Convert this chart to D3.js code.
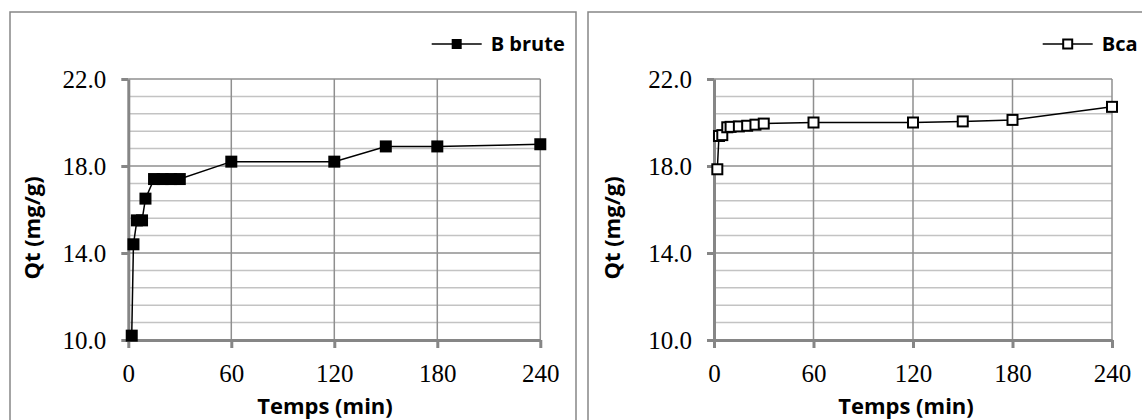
<!DOCTYPE html>
<html>
<head>
<meta charset="utf-8">
<script src="https://cdn.jsdelivr.net/npm/d3@7"></script>
<style>
  html, body { margin: 0; padding: 0; background: #fff; }
  svg { display: block; }
</style>
</head>
<body>
<svg id="chart" width="1142" height="420"></svg>
<script>
// ---- data ----
const times = [2, 3, 5, 8, 10, 15, 20, 25, 30, 60, 120, 150, 180, 240];
const qtBrute = [10.2, 14.4, 15.5, 15.5, 16.5, 17.4, 17.4, 17.4, 17.4, 18.2, 18.2, 18.9, 18.9, 19.0];
const qtBca = [17.85, 19.38, 19.42, 19.78, 19.8, 19.82, 19.85, 19.9, 19.95, 20.0, 20.0, 20.05, 20.12, 20.72];
const seriesNames = ["B brute", "Bca"];
const xTicks = [0, 60, 120, 180, 240];
const yTicks = [10, 14, 18, 22];
const yMinorStep = 0.8;
const xTitle = "Temps (min)";
const yTitle = "Qt (mg/g)";

const svg = d3.select("#chart");
const grey = "#868686";

const panels = [
  { name: seriesNames[0], values: qtBrute, filled: true,
    box: [10, 12, 576, 440], plot: { x0: 128.3, x1: 540.3, y0: 340, y1: 79 },
    legendX: 431.7, yTitleX: 40, xTitleC: 325 },
  { name: seriesNames[1], values: qtBca, filled: false,
    box: [588, 12, 1160, 440], plot: { x0: 714, x1: 1112, y0: 340, y1: 79 },
    legendX: 1042.7, yTitleX: 620, xTitleC: 906 }
];

panels.forEach(p => {
  const g = svg.append("g");
  // outer chart border
  g.append("rect")
    .attr("x", p.box[0]).attr("y", p.box[1])
    .attr("width", p.box[2] - p.box[0]).attr("height", p.box[3] - p.box[1])
    .attr("fill", "#fff").attr("stroke", grey).attr("stroke-width", 1.5);

  const x = d3.scaleLinear().domain([0, 240]).range([p.plot.x0, p.plot.x1]);
  const y = d3.scaleLinear().domain([10, 22]).range([p.plot.y0, p.plot.y1]);

  // minor horizontal gridlines
  const minor = d3.range(10 + yMinorStep, 22 - 0.01, yMinorStep)
    .filter(v => !yTicks.some(t => Math.abs(t - v) < 0.01));
  g.append("g").selectAll("line").data(minor).join("line")
    .attr("x1", x(0)).attr("x2", x(240))
    .attr("y1", d => y(d)).attr("y2", d => y(d))
    .attr("stroke", "#c3c3c3").attr("stroke-width", 1.5);
  // major horizontal gridlines
  g.append("g").selectAll("line").data(yTicks.slice(1)).join("line")
    .attr("x1", x(0)).attr("x2", x(240))
    .attr("y1", d => y(d)).attr("y2", d => y(d))
    .attr("stroke", "#8f8f8f").attr("stroke-width", 1.5);
  // vertical gridlines
  g.append("g").selectAll("line").data(xTicks.slice(1)).join("line")
    .attr("x1", d => x(d)).attr("x2", d => x(d))
    .attr("y1", y(10)).attr("y2", y(22))
    .attr("stroke", "#8f8f8f").attr("stroke-width", 1.5);

  // axes
  const xAxis = d3.axisBottom(x).tickValues(xTicks).tickSize(8).tickSizeOuter(0).tickFormat(d3.format("d"));
  const yAxis = d3.axisLeft(y).tickValues(yTicks).tickSize(7).tickSizeOuter(0).tickFormat(d3.format(".1f"));
  const gx = g.append("g").attr("transform", `translate(0,${y(10)})`).call(xAxis);
  const gy = g.append("g").attr("transform", `translate(${x(0)},0)`).call(yAxis);
  [gx, gy].forEach(a => {
    a.select(".domain").attr("stroke", grey).attr("stroke-width", 3);
    a.selectAll(".tick line").attr("stroke", grey).attr("stroke-width", 3);
    a.selectAll(".tick text")
      .attr("fill", "#000")
      .style("font-family", "'Liberation Serif','Times New Roman',serif")
      .style("font-size", "25px");
  });
  gx.selectAll(".tick text").attr("dy", null).attr("y", 42);
  gy.selectAll(".tick text").attr("x", -22).attr("dy", "0.34em");

  // line
  const pts = times.map((t, i) => [t, p.values[i]]);
  g.append("path").datum(pts)
    .attr("fill", "none").attr("stroke", "#000").attr("stroke-width", 1.5)
    .attr("d", d3.line().x(d => x(d[0])).y(d => y(d[1])));

  // markers
  const s = p.filled ? 12 : 10;
  g.append("g").selectAll("rect").data(pts).join("rect")
    .attr("x", d => x(d[0]) - s / 2).attr("y", d => y(d[1]) - s / 2)
    .attr("width", s).attr("height", s)
    .attr("fill", p.filled ? "#000" : "#fff")
    .attr("stroke", "#000").attr("stroke-width", p.filled ? 0 : 2);

  // legend
  const ly = 44;
  g.append("line").attr("x1", p.legendX).attr("x2", p.legendX + 50)
    .attr("y1", ly).attr("y2", ly).attr("stroke", "#000").attr("stroke-width", 1.5);
  const ls = p.filled ? 10 : 9;
  g.append("rect").attr("x", p.legendX + 25 - ls / 2).attr("y", ly - ls / 2)
    .attr("width", ls).attr("height", ls)
    .attr("fill", p.filled ? "#000" : "#fff").attr("stroke", "#000")
    .attr("stroke-width", p.filled ? 0 : 2);
  g.append("text").attr("x", p.legendX + 59).attr("y", ly + 7)
    .style("font-family", "'Open Sans',sans-serif").style("font-weight", "bold")
    .style("font-size", "20px").text(p.name);

  // axis titles
  g.append("text").attr("x", p.xTitleC).attr("y", 414)
    .attr("text-anchor", "middle")
    .style("font-family", "'Open Sans',sans-serif").style("font-weight", "bold")
    .style("font-size", "22px").text(xTitle);
  g.append("text")
    .attr("transform", `translate(${p.yTitleX},228) rotate(-90)`)
    .attr("text-anchor", "middle")
    .style("font-family", "'Open Sans',sans-serif").style("font-weight", "bold")
    .style("font-size", "22px").text(yTitle);
});
</script>
</body>
</html>
